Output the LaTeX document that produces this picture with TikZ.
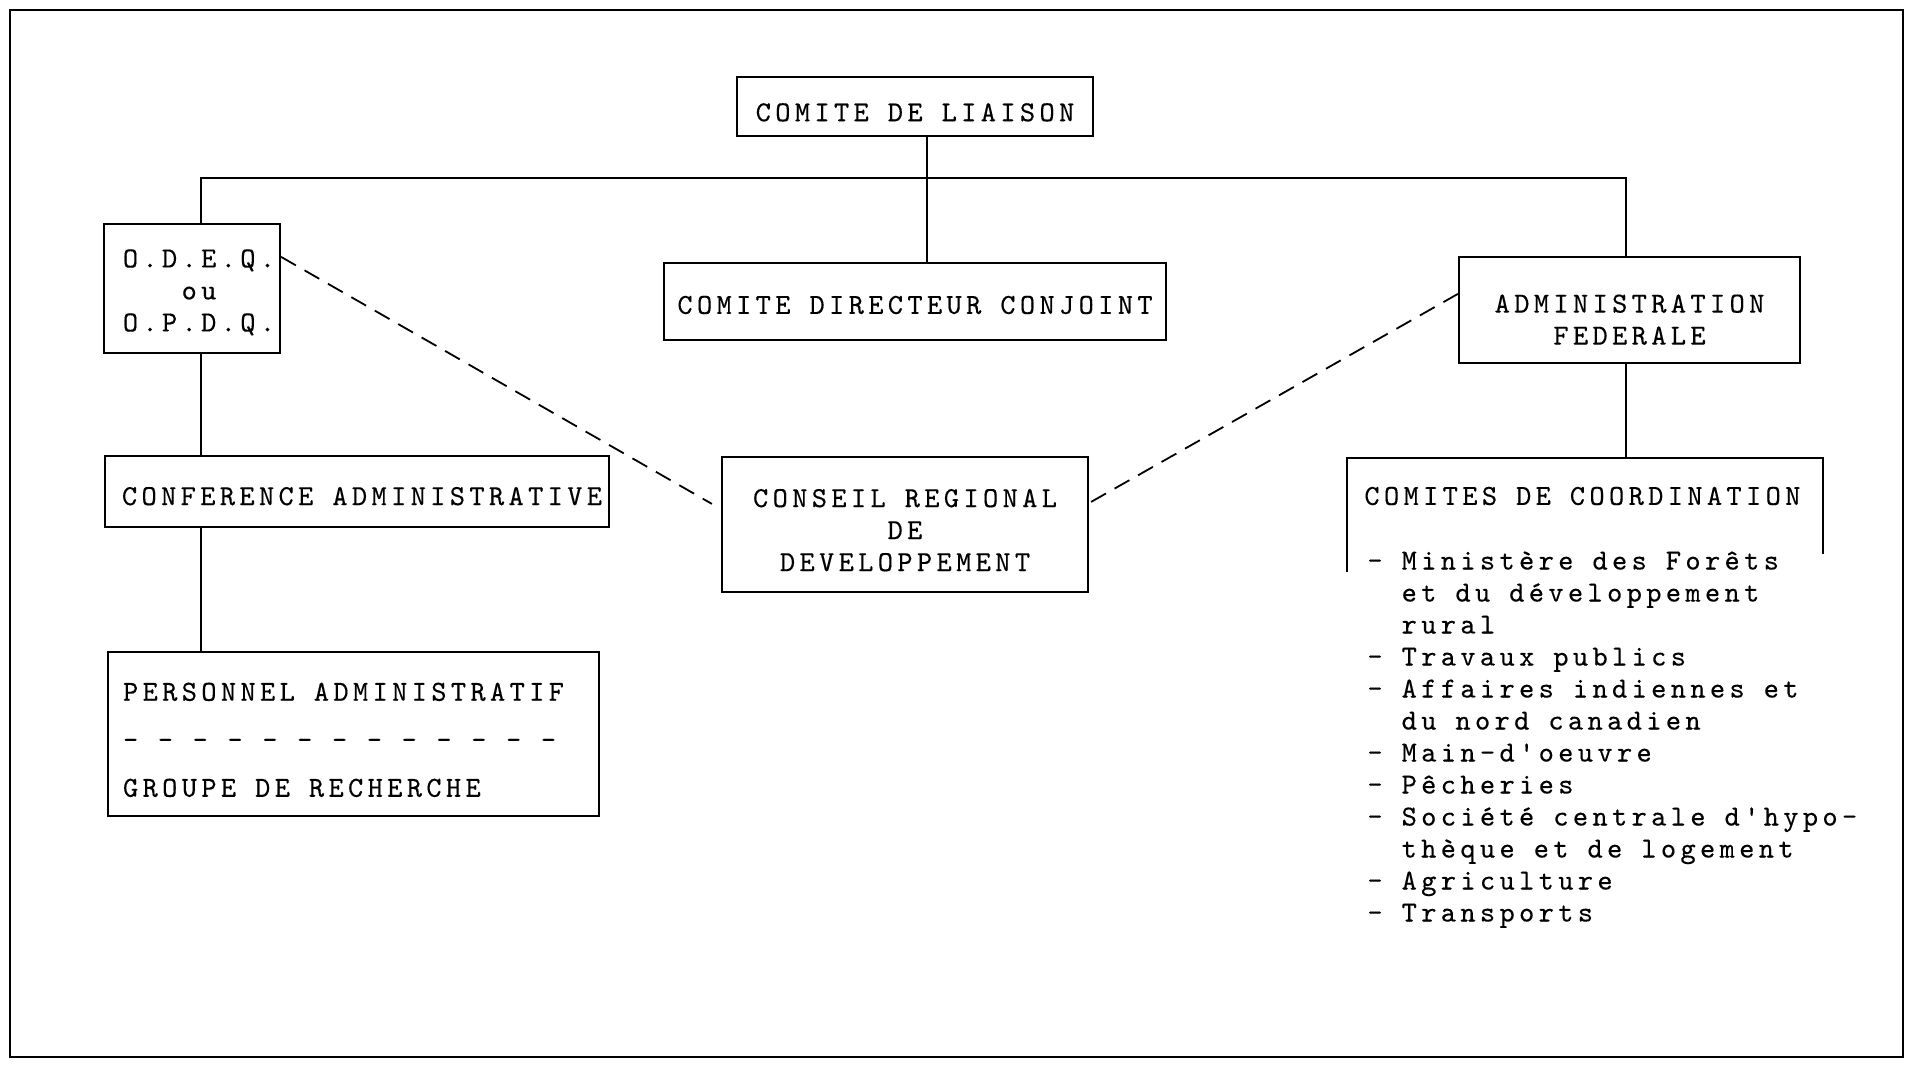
\documentclass[tikz,border=0pt]{standalone}
\usepackage{fontspec}
\newfontfamily\tw{lmmono10-regular.otf}[LetterSpace=15,FakeBold=0.3]
\usetikzlibrary{calc}
\protected\def\twfont{\tw\fontsize{14.5}{16}\selectfont\spaceskip=9.5pt\relax}
\newcommand\dn[1]{\rule{0pt}{#1}}
\tikzset{
  tt/.style={font=\twfont},
  box/.style={draw, line width=1.1pt, inner sep=0pt, tt, align=center},
  link/.style={line width=0.8pt},
  dlink/.style={line width=0.9pt, dash pattern=on 8.5pt off 5pt},
  frame/.style={line width=1.3pt},
}
\begin{document}
\begin{tikzpicture}[x=0.5pt,y=-0.5pt]
\useasboundingbox (0,0) rectangle (1910,1065);
\draw[frame] (10,10) rectangle (1903,1057);

\node[box, minimum width=178pt, minimum height=29.5pt] (liaison) at (915,106.5) {\dn{14.9pt}COMITE DE LIAISON};
\node[box, minimum width=88pt, minimum height=64.5pt] (odeq) at (192,288.5)
  {\dn{12.9pt}\hspace*{7pt}O.D.E.Q.\\\hspace*{7pt}ou\\\hspace*{7pt}O.P.D.Q.};
\node[box, minimum width=251pt, minimum height=38.5pt] (directeur) at (915,301.5) {\dn{12.5pt}COMITE DIRECTEUR CONJOINT};
\node[box, minimum width=170.5pt, minimum height=53pt] (admin) at (1629.5,310) {\dn{18.7pt}ADMINISTRATION\\FEDERALE};
\node[box, minimum width=252pt, minimum height=35.5pt] (conference) at (357,491.5) {\dn{13.7pt}\hspace*{5pt}CONFERENCE ADMINISTRATIVE};
\node[box, minimum width=245.5pt, minimum height=82pt, align=left] (personnel) at (353.5,734)
  {\dn{14.9pt}PERSONNEL ADMINISTRATIF\hspace*{10pt}\\[8pt]{\spaceskip=9.8pt\relax - - - - - - - - - - - - -}\\[8pt]GROUPE DE RECHERCHE};
\node[box, minimum width=183pt, minimum height=67.5pt] (conseil) at (905,524.5) {\dn{14.7pt}CONSEIL REGIONAL\\DE\\DEVELOPPEMENT};

% coordination committees (open box)
\coordinate (cL) at (1347,572);
\coordinate (cTL) at (1347,458);
\coordinate (cTR) at (1823,458);
\coordinate (cR) at (1823,554);
\draw[line width=1.1pt] (cL) -- (cTL) -- (cTR) -- (cR);
\node[tt, inner sep=0pt, anchor=west] (comites) at (1364,496) {COMITES DE COORDINATION};
\node[tt, inner sep=0pt, anchor=north west, align=left] (liste) at (1367,551) {%
- Ministère des Forêts\\
\hphantom{- }et du développement\\
\hphantom{- }rural\\
- Travaux publics\\
- Affaires indiennes et\\
\hphantom{- }du nord canadien\\
- Main-d'oeuvre\\
- Pêcheries\\
- Société centrale d'hypo-\\
\hphantom{- }thèque et de logement\\
- Agriculture\\
- Transports};

% solid connectors
\coordinate (busL) at (201,178);
\coordinate (busM) at (927,178);
\coordinate (busR) at (1626,178);
\draw[link] (busL |- odeq.north) -- (busL) -- (busR) -- (busR |- admin.north);
\draw[link] (busM |- liaison.south) -- (busM |- directeur.north);
\draw[link] (busL |- odeq.south) -- (busL |- conference.north);
\draw[link] (busL |- conference.south) -- (busL |- personnel.north);
\draw[link] (busR |- admin.south) -- (busR |- cTR);

% dashed connectors
\draw[dlink] ($(odeq.north east)+(0,34)$) -- ($(conseil.north west)+(-9,48)$);
\draw[dlink] ($(conseil.north east)+(2,46)$) -- ($(admin.north west)+(0,38)$);
\end{tikzpicture}
\end{document}
